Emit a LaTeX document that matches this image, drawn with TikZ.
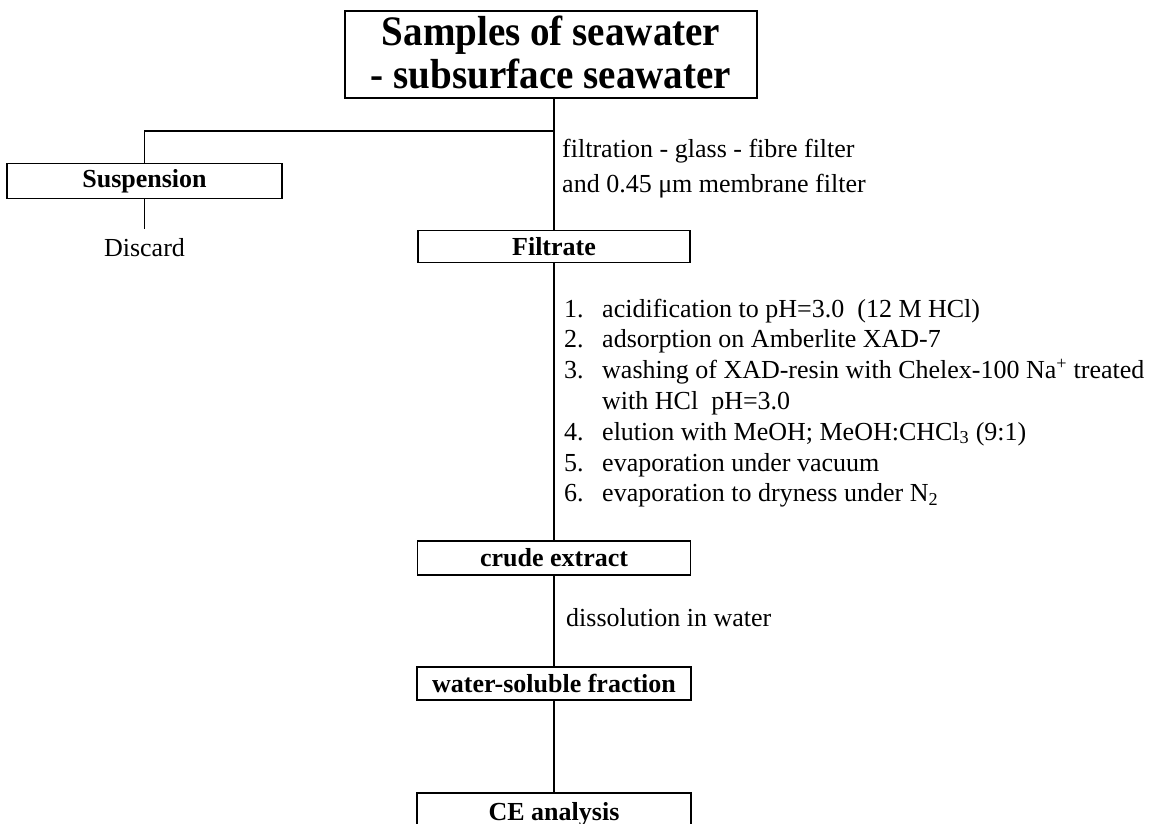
\documentclass[tikz,border=0pt]{standalone}
\usepackage{fontspec}
\setmainfont{Liberation Serif}
\newfontfamily\titlefont{Liberation Serif}[FakeStretch=0.93]
\begin{document}
\begin{tikzpicture}[x=1pt,y=-1pt,
  box/.style={draw, line width=1.6pt, inner sep=0pt, font=\fontsize{26}{30}\selectfont\bfseries},
  lbl/.style={inner sep=0pt, anchor=base west, font=\fontsize{26}{30}\selectfont},
  conn/.style={line width=1.5pt}]
\useasboundingbox (0,0) rectangle (1161,823);
% boxes
\node[box, minimum width=412pt, minimum height=87pt, align=center,
      font=\titlefont\fontsize{42}{43}\selectfont\bfseries] (top) at (551,54.5)
      {Samples of seawater\\- subsurface seawater\rule[-4pt]{0pt}{4pt}};
\node[box, minimum width=275pt, minimum height=35pt] (susp) at (144.5,181) {Suspension};
\node[box, minimum width=272pt, minimum height=32pt] (filt) at (554,246.5) {Filtrate};
\node[box, minimum width=273pt, minimum height=34pt] (crude) at (554,558) {crude extract};
\node[box, minimum width=274pt, minimum height=33pt] (ws) at (554,683.5) {water-soluble fraction};
\node[box, minimum width=274pt, minimum height=43pt] (ce) at (554,814.5) {CE analysis};
\node[inner xsep=0pt, inner ysep=9pt, anchor=north, font=\fontsize{26}{30}\selectfont] (disc) at (144.5,229) {Discard};
% connectors
\coordinate (br) at (554,131);
\draw[conn] (top.south -| filt.north) -- (filt.north);
\draw[conn] (br) -| (susp.north);
\draw[conn] (susp.south) -- (disc.north);
\draw[conn] (filt.south) -- (crude.north);
\draw[conn] (crude.south) -- (ws.north);
\draw[conn] (ws.south) -- (ce.north);
% labels
\node[lbl] (f1) at (562,157) {filtration - glass - fibre filter};
\node[lbl] (f2) at (562,192) {and 0.45 μm membrane filter};
\node[lbl] (n1) at (564,317) {1.};
\node[lbl] (n2) at (564,347.8) {2.};
\node[lbl] (n3) at (564,378.6) {3.};
\node[lbl] (n4) at (564,440.2) {4.};
\node[lbl] (n5) at (564,471) {5.};
\node[lbl] (n6) at (564,501.8) {6.};
\node[lbl] (t1) at (602,317) {acidification to pH=3.0 \ (12 M HCl)};
\node[lbl] (t2) at (602,347.8) {adsorption on Amberlite XAD-7};
\node[lbl] (t3) at (602,378.6) {washing of XAD-resin with Chelex-100 Na\textsuperscript{+} treated};
\node[lbl] (t3b) at (602,409.4) {with HCl \ pH=3.0};
\node[lbl] (t4) at (602,440.2) {elution with MeOH; MeOH:CHCl\textsubscript{3} (9:1)};
\node[lbl] (t5) at (602,471) {evaporation under vacuum};
\node[lbl] (t6) at (602,501.8) {evaporation to dryness under N\textsubscript{2}};
\node[lbl] (dis) at (566,626) {dissolution in water};
\end{tikzpicture}
\end{document}
